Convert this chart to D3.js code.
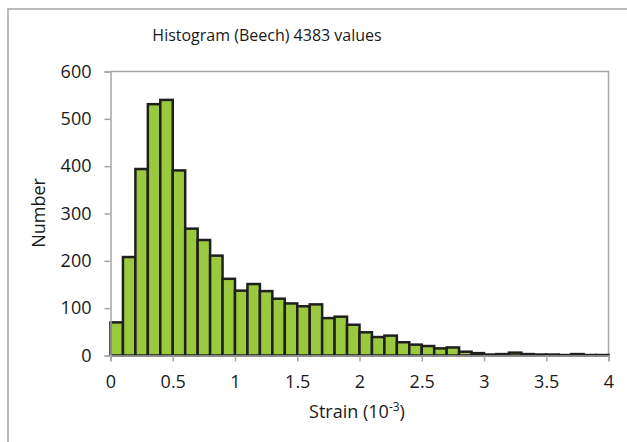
<!DOCTYPE html>
<html>
<head>
<meta charset="utf-8">
<script src="https://cdn.jsdelivr.net/npm/d3@7"></script>
<style>
  body { margin: 0; background: #fff; }
  text { font-family: "Open Sans", "Liberation Sans", sans-serif; fill: #1a1a1a; }
</style>
</head>
<body>
<svg id="chart" width="627" height="442"></svg>
<script>
// bin starts (strain, 10^-3), width 0.1
const binStarts = d3.range(40).map(i => +(i * 0.1).toFixed(1));
const counts = [
  70, 208, 394, 531, 540, 391, 268, 244, 211, 162,
  137, 151, 136, 120, 110, 104, 108, 79, 82, 65,
  49, 39, 42, 28, 23, 20, 15, 17, 8, 5,
  2, 3, 6, 3, 2, 2, 1, 3, 1, 1
];
const xTicks = [0, 0.5, 1, 1.5, 2, 2.5, 3, 3.5, 4];
const yTicks = [0, 100, 200, 300, 400, 500, 600];

const binWidth = 0.1;
const axisColor = "#a6a6a6";
const barFill = "#9bc93d";
const barStroke = "#1f1f1f";

const svg = d3.select("#chart");

// outer chart frame (right and bottom run past the picture)
svg.append("rect")
  .attr("x", 8)
  .attr("y", 9)
  .attr("width", 700)
  .attr("height", 500)
  .style("fill", "none")
  .style("stroke", axisColor)
  .style("stroke-width", 1.5);

const plot = { left: 110.5, right: 608.5, top: 71.5, bottom: 355.5 };

const x = d3.scaleLinear().domain([0, 4]).range([plot.left, plot.right]);
const y = d3.scaleLinear().domain([0, 600]).range([plot.bottom, plot.top]);

// plot frame top and right
svg.append("path")
  .attr("d", `M${plot.left},${plot.top}H${plot.right}V${plot.bottom}`)
  .style("fill", "none")
  .style("stroke", axisColor)
  .style("stroke-width", 1.5);

// bars
svg.append("g")
  .selectAll("rect")
  .data(counts)
  .join("rect")
  .attr("x", (d, i) => x(binStarts[i]))
  .attr("y", d => y(d))
  .attr("width", x(binWidth) - x(0))
  .attr("height", d => y(0) - y(d))
  .style("fill", barFill)
  .style("stroke", barStroke)
  .style("stroke-width", 2.5);

// axes
const yAxis = svg.append("g")
  .attr("transform", `translate(${plot.left},0)`)
  .call(d3.axisLeft(y).tickValues(yTicks).tickSize(6).tickPadding(13));

const xAxis = svg.append("g")
  .attr("transform", `translate(0,${plot.bottom})`)
  .call(d3.axisBottom(x).tickValues(xTicks).tickSize(6).tickPadding(14)
    .tickFormat(d3.format("")));

[xAxis, yAxis].forEach(a => {
  a.select(".domain").style("stroke", axisColor).style("stroke-width", 1.5);
  a.selectAll(".tick line").style("stroke", axisColor).style("stroke-width", 1.5);
  a.selectAll(".tick text")
    .style("font-size", "18px")
    .style("fill", "#1a1a1a")
    .style("font-family", "'Open Sans', sans-serif");
});
// keep the baseline on top of the bars
xAxis.raise();

// title
svg.append("text")
  .attr("x", 267)
  .attr("y", 41)
  .attr("text-anchor", "middle")
  .style("font-size", "16px")
  .text("Histogram (Beech) 4383 values");

// x axis title
const xt = svg.append("text")
  .attr("x", 357)
  .attr("y", 418)
  .attr("text-anchor", "middle")
  .style("font-size", "18px");
xt.append("tspan").text("Strain (10");
xt.append("tspan").attr("dy", -7).style("font-size", "12px").text("-3");
xt.append("tspan").attr("dy", 7).text(")");

// y axis title
svg.append("text")
  .attr("transform", "translate(45,213) rotate(-90)")
  .attr("text-anchor", "middle")
  .style("font-size", "18px")
  .text("Number");
</script>
</body>
</html>
